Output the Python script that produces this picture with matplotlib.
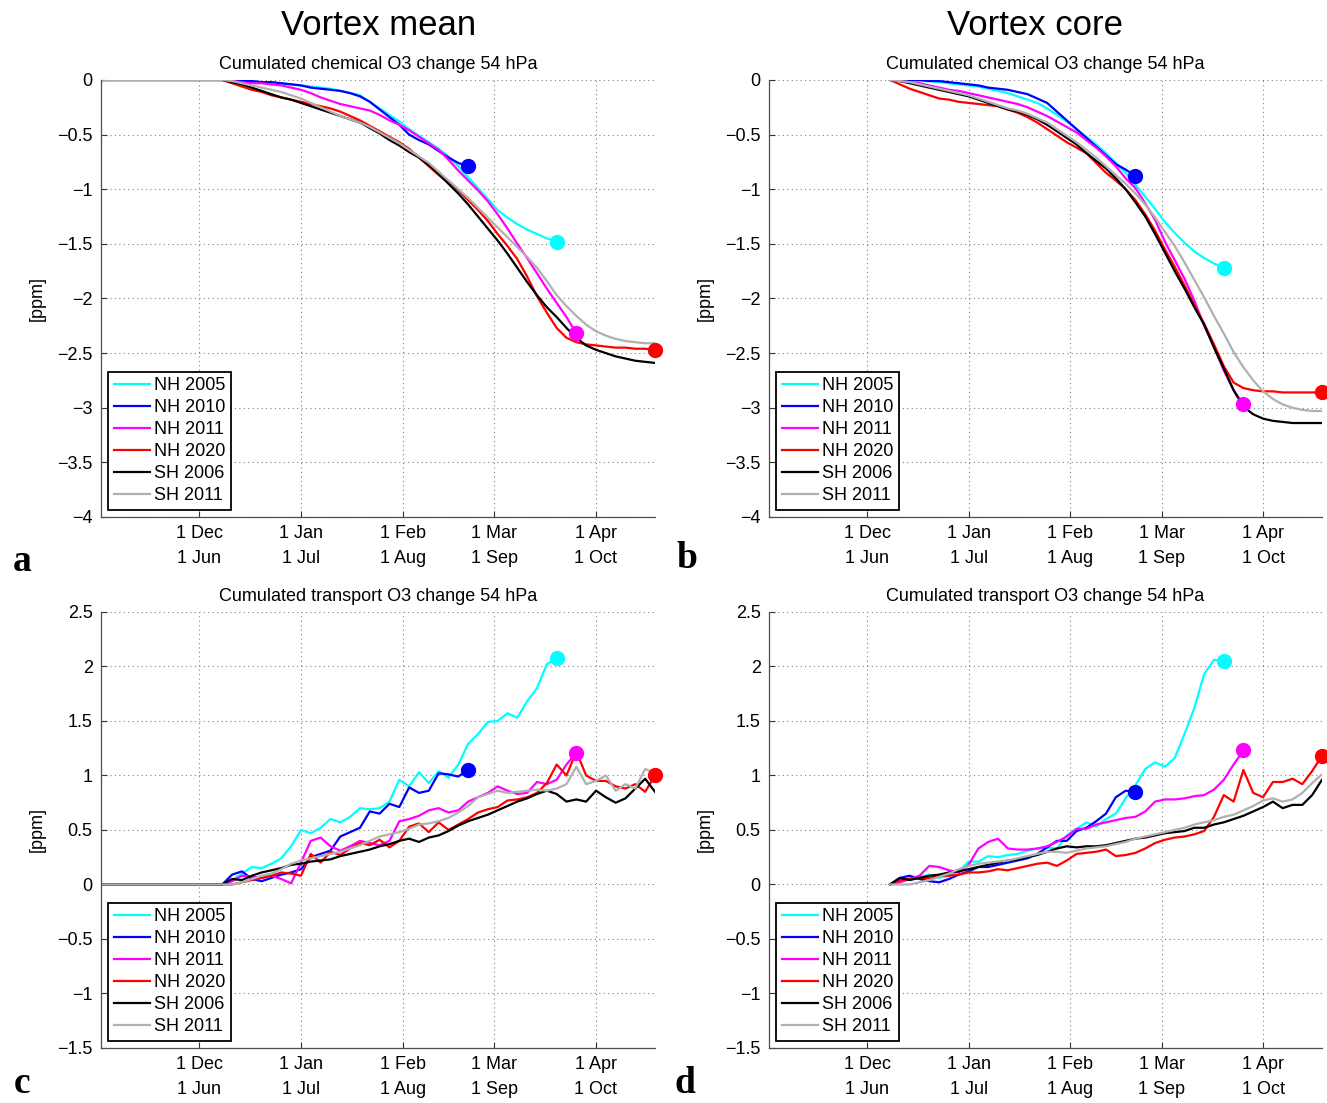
import numpy as np
import matplotlib
matplotlib.use("Agg")
import matplotlib.pyplot as plt
from matplotlib.ticker import FuncFormatter

plt.rcParams['font.family'] = ['Liberation Sans', 'DejaVu Sans']

# days since 1 Dec (NH) / 1 Jun (SH), one value every 3 days
days = np.arange(7, 140, 3)
first_day = -30   # vortex mean panels start at zero from 1 Nov
last_day = 139

labels = ["NH 2005", "NH 2010", "NH 2011", "NH 2020", "SH 2006", "SH 2011"]
colors = ["#00ffff", "#0000ff", "#ff00ff", "#ff0000", "#000000", "#b0b0b0"]
has_dot = [True, True, True, True, False, False]

tick_days = [0, 31, 62, 90, 121]
tick_labels = ["1 Dec\n1 Jun", "1 Jan\n1 Jul", "1 Feb\n1 Aug", "1 Mar\n1 Sep", "1 Apr\n1 Oct"]
chem_yticks = [-4, -3.5, -3, -2.5, -2, -1.5, -1, -0.5, 0]
trans_yticks = [-1.5, -1, -0.5, 0, 0.5, 1, 1.5, 2, 2.5]

# --- vortex mean, chemical change [ppm]
mean_chem_nh2005 = [0, 0, -0.01, -0.01, -0.02, -0.02, -0.03, -0.04, -0.05, -0.06, -0.07, -0.08,
                    -0.10, -0.12, -0.14, -0.20, -0.26, -0.32, -0.38, -0.45, -0.51, -0.57, -0.63,
                    -0.70, -0.79, -0.89, -0.99, -1.09, -1.19, -1.26, -1.32, -1.37, -1.41, -1.45, -1.48]
mean_chem_nh2010 = [0, 0, -0.01, -0.01, -0.02, -0.02, -0.03, -0.04, -0.05, -0.07, -0.08, -0.09,
                    -0.10, -0.12, -0.15, -0.20, -0.27, -0.34, -0.41, -0.50, -0.55, -0.59, -0.65,
                    -0.71, -0.76, -0.79]
mean_chem_nh2011 = [0, -0.01, -0.02, -0.03, -0.03, -0.04, -0.05, -0.07, -0.09, -0.12, -0.16, -0.19,
                    -0.22, -0.24, -0.26, -0.28, -0.32, -0.37, -0.41, -0.46, -0.52, -0.58, -0.64,
                    -0.73, -0.83, -0.92, -1.01, -1.11, -1.23, -1.36, -1.50, -1.63, -1.77, -1.91,
                    -2.04, -2.17, -2.32]
mean_chem_nh2020 = [0, -0.03, -0.06, -0.09, -0.11, -0.14, -0.16, -0.18, -0.20, -0.22, -0.24, -0.26,
                    -0.29, -0.33, -0.37, -0.42, -0.47, -0.52, -0.57, -0.63, -0.71, -0.79, -0.87,
                    -0.94, -1.01, -1.10, -1.19, -1.29, -1.41, -1.52, -1.64, -1.80, -1.98, -2.13,
                    -2.27, -2.36, -2.40, -2.42, -2.43, -2.44, -2.45, -2.45, -2.46, -2.46, -2.47]
mean_chem_sh2006 = [0, -0.02, -0.04, -0.07, -0.10, -0.13, -0.16, -0.18, -0.21, -0.24, -0.27, -0.30,
                    -0.33, -0.36, -0.39, -0.44, -0.49, -0.55, -0.60, -0.66, -0.71, -0.78, -0.86,
                    -0.95, -1.04, -1.14, -1.25, -1.36, -1.47, -1.59, -1.72, -1.85, -1.97, -2.08,
                    -2.17, -2.27, -2.36, -2.43, -2.47, -2.50, -2.53, -2.55, -2.57, -2.58, -2.59]
mean_chem_sh2011 = [0, -0.01, -0.03, -0.05, -0.07, -0.09, -0.11, -0.14, -0.17, -0.21, -0.25, -0.29,
                    -0.33, -0.36, -0.39, -0.43, -0.48, -0.53, -0.58, -0.64, -0.70, -0.76, -0.84,
                    -0.92, -1.00, -1.08, -1.17, -1.26, -1.35, -1.44, -1.53, -1.62, -1.72, -1.84,
                    -1.97, -2.07, -2.16, -2.24, -2.30, -2.34, -2.37, -2.39, -2.40, -2.41, -2.41]

# --- vortex core, chemical change [ppm]
core_chem_nh2005 = [0, 0, 0, -0.01, -0.01, -0.02, -0.03, -0.04, -0.05, -0.06, -0.08, -0.10,
                    -0.12, -0.15, -0.18, -0.21, -0.26, -0.32, -0.38, -0.45, -0.52, -0.59, -0.67,
                    -0.76, -0.85, -0.96, -1.07, -1.18, -1.30, -1.40, -1.49, -1.57, -1.63, -1.68, -1.72]
core_chem_nh2010 = [0, 0, 0, 0, -0.01, -0.01, -0.02, -0.03, -0.04, -0.05, -0.07, -0.08,
                    -0.09, -0.11, -0.13, -0.17, -0.21, -0.29, -0.37, -0.45, -0.53, -0.61, -0.69,
                    -0.77, -0.82, -0.88]
core_chem_nh2011 = [0, -0.01, -0.02, -0.03, -0.05, -0.07, -0.09, -0.10, -0.12, -0.14, -0.16, -0.18,
                    -0.20, -0.22, -0.25, -0.29, -0.33, -0.38, -0.43, -0.48, -0.55, -0.62, -0.70,
                    -0.79, -0.90, -0.99, -1.13, -1.28, -1.48, -1.65, -1.82, -2.02, -2.25, -2.44,
                    -2.66, -2.84, -2.97]
core_chem_nh2020 = [0, -0.04, -0.08, -0.11, -0.14, -0.17, -0.18, -0.20, -0.21, -0.22, -0.23, -0.24,
                    -0.27, -0.30, -0.34, -0.39, -0.45, -0.51, -0.57, -0.62, -0.67, -0.76, -0.85,
                    -0.92, -1.00, -1.10, -1.23, -1.38, -1.55, -1.71, -1.88, -2.06, -2.23, -2.42,
                    -2.62, -2.77, -2.82, -2.84, -2.85, -2.85, -2.86, -2.86, -2.86, -2.86, -2.86]
core_chem_sh2006 = [0, -0.01, -0.03, -0.05, -0.07, -0.09, -0.11, -0.13, -0.15, -0.18, -0.21, -0.24,
                    -0.27, -0.29, -0.32, -0.36, -0.41, -0.47, -0.53, -0.59, -0.67, -0.74, -0.81,
                    -0.90, -1.00, -1.12, -1.25, -1.41, -1.58, -1.75, -1.91, -2.08, -2.24, -2.45,
                    -2.64, -2.84, -2.99, -3.06, -3.10, -3.12, -3.13, -3.14, -3.14, -3.14, -3.14]
core_chem_sh2011 = [0, -0.01, -0.02, -0.04, -0.06, -0.08, -0.10, -0.12, -0.14, -0.17, -0.20, -0.23,
                    -0.26, -0.28, -0.31, -0.35, -0.39, -0.45, -0.51, -0.57, -0.64, -0.71, -0.79,
                    -0.87, -0.95, -1.04, -1.14, -1.26, -1.39, -1.52, -1.67, -1.83, -1.99, -2.16,
                    -2.32, -2.49, -2.63, -2.75, -2.85, -2.92, -2.97, -3.00, -3.02, -3.03, -3.03]

# --- vortex mean, transport change [ppm]
mean_trans_nh2005 = [0, 0.04, 0.10, 0.16, 0.15, 0.19, 0.24, 0.35, 0.50, 0.47, 0.52, 0.60,
                     0.57, 0.62, 0.70, 0.69, 0.70, 0.76, 0.96, 0.90, 1.03, 0.93, 1.04,
                     0.98, 1.10, 1.29, 1.38, 1.49, 1.50, 1.57, 1.53, 1.68, 1.80, 2.02, 2.08]
mean_trans_nh2010 = [0, 0.09, 0.12, 0.05, 0.03, 0.06, 0.09, 0.11, 0.14, 0.25, 0.28, 0.31,
                     0.44, 0.48, 0.52, 0.67, 0.65, 0.74, 0.71, 0.89, 0.84, 0.86, 1.02,
                     1.01, 0.99, 1.05]
mean_trans_nh2011 = [0, 0.03, 0.08, 0.07, 0.06, 0.08, 0.05, 0.01, 0.20, 0.40, 0.43, 0.35,
                     0.31, 0.35, 0.40, 0.38, 0.36, 0.40, 0.58, 0.60, 0.63, 0.68, 0.70,
                     0.66, 0.68, 0.76, 0.80, 0.84, 0.90, 0.86, 0.83, 0.84, 0.94, 0.92,
                     0.96, 1.10, 1.21]
mean_trans_nh2020 = [0, 0.00, 0.02, 0.04, 0.06, 0.08, 0.11, 0.10, 0.08, 0.28, 0.20, 0.30,
                     0.27, 0.33, 0.38, 0.36, 0.41, 0.34, 0.40, 0.53, 0.56, 0.48, 0.57,
                     0.50, 0.55, 0.60, 0.66, 0.69, 0.71, 0.77, 0.78, 0.80, 0.84, 0.93,
                     1.10, 1.00, 1.22, 1.00, 0.95, 0.95, 0.90, 0.88, 0.92, 0.85, 1.00]
mean_trans_sh2006 = [0, 0.05, 0.04, 0.08, 0.11, 0.13, 0.15, 0.18, 0.19, 0.21, 0.22, 0.23,
                     0.26, 0.28, 0.30, 0.32, 0.35, 0.37, 0.40, 0.42, 0.39, 0.43, 0.45,
                     0.49, 0.54, 0.58, 0.61, 0.64, 0.68, 0.72, 0.76, 0.79, 0.83, 0.86,
                     0.83, 0.76, 0.78, 0.76, 0.86, 0.80, 0.75, 0.79, 0.88, 0.97, 0.85]
mean_trans_sh2011 = [0, 0.00, 0.02, 0.05, 0.08, 0.10, 0.14, 0.19, 0.22, 0.24, 0.26, 0.28,
                     0.30, 0.33, 0.36, 0.40, 0.44, 0.46, 0.48, 0.51, 0.55, 0.56, 0.58,
                     0.61, 0.66, 0.72, 0.80, 0.83, 0.86, 0.84, 0.85, 0.86, 0.87, 0.86,
                     0.88, 0.92, 1.08, 0.92, 0.95, 1.00, 0.86, 0.92, 0.88, 1.06, 1.02]

# --- vortex core, transport change [ppm]
core_trans_nh2005 = [0, 0.02, 0.06, 0.07, 0.09, 0.06, 0.08, 0.12, 0.21, 0.21, 0.26, 0.25,
                     0.27, 0.28, 0.31, 0.33, 0.34, 0.33, 0.45, 0.51, 0.57, 0.53, 0.60,
                     0.65, 0.79, 0.91, 1.06, 1.12, 1.08, 1.16, 1.38, 1.62, 1.93, 2.06, 2.05]
core_trans_nh2010 = [0, 0.06, 0.08, 0.05, 0.03, 0.02, 0.05, 0.09, 0.12, 0.16, 0.16, 0.18,
                     0.20, 0.22, 0.24, 0.28, 0.34, 0.40, 0.40, 0.49, 0.52, 0.58, 0.65,
                     0.80, 0.86, 0.85]
core_trans_nh2011 = [0, 0.02, 0.05, 0.08, 0.17, 0.16, 0.13, 0.11, 0.18, 0.33, 0.39, 0.42,
                     0.33, 0.32, 0.32, 0.33, 0.35, 0.39, 0.44, 0.51, 0.51, 0.55, 0.57,
                     0.59, 0.61, 0.62, 0.67, 0.76, 0.78, 0.78, 0.79, 0.81, 0.82, 0.87,
                     0.96, 1.10, 1.23]
core_trans_nh2020 = [0, 0.04, 0.05, 0.06, 0.06, 0.08, 0.08, 0.09, 0.11, 0.11, 0.12, 0.14,
                     0.13, 0.15, 0.17, 0.19, 0.20, 0.17, 0.22, 0.28, 0.29, 0.30, 0.32,
                     0.26, 0.27, 0.29, 0.33, 0.38, 0.41, 0.43, 0.44, 0.46, 0.49, 0.62,
                     0.82, 0.76, 1.05, 0.84, 0.80, 0.94, 0.94, 0.97, 0.92, 1.04, 1.18]
core_trans_sh2006 = [0, 0.06, 0.04, 0.06, 0.08, 0.09, 0.11, 0.12, 0.14, 0.16, 0.18, 0.20,
                     0.22, 0.23, 0.25, 0.27, 0.30, 0.33, 0.35, 0.34, 0.35, 0.35, 0.36,
                     0.38, 0.40, 0.42, 0.43, 0.45, 0.47, 0.48, 0.49, 0.52, 0.52, 0.55,
                     0.57, 0.60, 0.63, 0.67, 0.71, 0.76, 0.70, 0.73, 0.73, 0.82, 0.96]
core_trans_sh2011 = [0, 0.00, 0.00, 0.02, 0.04, 0.07, 0.10, 0.14, 0.17, 0.19, 0.20, 0.21,
                     0.22, 0.24, 0.26, 0.28, 0.30, 0.30, 0.29, 0.31, 0.33, 0.34, 0.35,
                     0.37, 0.39, 0.42, 0.44, 0.46, 0.48, 0.50, 0.52, 0.55, 0.57, 0.59,
                     0.62, 0.64, 0.68, 0.72, 0.77, 0.79, 0.76, 0.78, 0.84, 0.93, 1.01]

mean_chem = [mean_chem_nh2005, mean_chem_nh2010, mean_chem_nh2011, mean_chem_nh2020, mean_chem_sh2006, mean_chem_sh2011]
core_chem = [core_chem_nh2005, core_chem_nh2010, core_chem_nh2011, core_chem_nh2020, core_chem_sh2006, core_chem_sh2011]
mean_trans = [mean_trans_nh2005, mean_trans_nh2010, mean_trans_nh2011, mean_trans_nh2020, mean_trans_sh2006, mean_trans_sh2011]
core_trans = [core_trans_nh2005, core_trans_nh2010, core_trans_nh2011, core_trans_nh2020, core_trans_sh2006, core_trans_sh2011]


def minus_fmt(v, pos):
    return ('%g' % v).replace('-', '\u2212')


# Draws one panel: all series, end dots, legend, grid and ticks
def panel(ax, series, yticks, title, from_start):
    for vals, label, color, dot in zip(series, labels, colors, has_dot):
        x = list(days[:len(vals)])
        y = list(vals)
        if from_start:
            x = [first_day] + x
            y = [0] + y
        ax.plot(x, y, color=color, lw=1.6, label=label)
        if dot:
            ax.plot(x[-1], y[-1], 'o', color=color, ms=10, clip_on=False, zorder=5)

    ax.set_xlim(first_day, last_day)
    ax.set_ylim(yticks[0], yticks[-1])
    ax.set_xticks(tick_days)
    ax.set_xticklabels(tick_labels, linespacing=1.6)
    ax.set_yticks(yticks)
    ax.yaxis.set_major_formatter(FuncFormatter(minus_fmt))
    ax.tick_params(direction='in', length=4, width=0.8, labelsize=13, pad=6, color='0.2')
    ax.grid(True, color='0.5', linestyle=(0, (1, 3)), lw=0.8)
    for s in ['top', 'right']:
        ax.spines[s].set_visible(False)
    for s in ['left', 'bottom']:
        ax.spines[s].set_color('0.3')
        ax.spines[s].set_linewidth(0.9)
    ax.set_ylabel('[ppm]', fontsize=13, labelpad=8)
    ax.set_title(title, fontsize=13, pad=8)
    leg = ax.legend(loc='lower left', fontsize=13, fancybox=False, framealpha=1,
                    borderaxespad=0.4, borderpad=0.3, labelspacing=0.28,
                    handlelength=2.0, handletextpad=0.25)
    leg.get_frame().set_edgecolor('black')
    leg.get_frame().set_linewidth(1.3)


fig = plt.figure(figsize=(13.27, 11.03), dpi=100)

ax_a = fig.add_axes([0.0761, 0.5313, 0.4175, 0.3962])
ax_b = fig.add_axes([0.5795, 0.5313, 0.4167, 0.3962])
ax_c = fig.add_axes([0.0761, 0.0499, 0.4175, 0.3953])
ax_d = fig.add_axes([0.5795, 0.0499, 0.4167, 0.3953])

panel(ax_a, mean_chem, chem_yticks, 'Cumulated chemical O3 change 54 hPa', True)
panel(ax_b, core_chem, chem_yticks, 'Cumulated chemical O3 change 54 hPa', False)
panel(ax_c, mean_trans, trans_yticks, 'Cumulated transport O3 change 54 hPa', True)
panel(ax_d, core_trans, trans_yticks, 'Cumulated transport O3 change 54 hPa', False)

fig.text(0.285, 0.977, 'Vortex mean', ha='center', va='center', fontsize=25)
fig.text(0.780, 0.977, 'Vortex core', ha='center', va='center', fontsize=25)

letter_font = dict(fontsize=27, fontweight='bold', family='Liberation Serif', ha='center', va='center')
fig.text(0.017, 0.491, 'a', **letter_font)
fig.text(0.518, 0.494, 'b', **letter_font)
fig.text(0.017, 0.018, 'c', **letter_font)
fig.text(0.516, 0.018, 'd', **letter_font)

fig.savefig('out.png', dpi=100)
